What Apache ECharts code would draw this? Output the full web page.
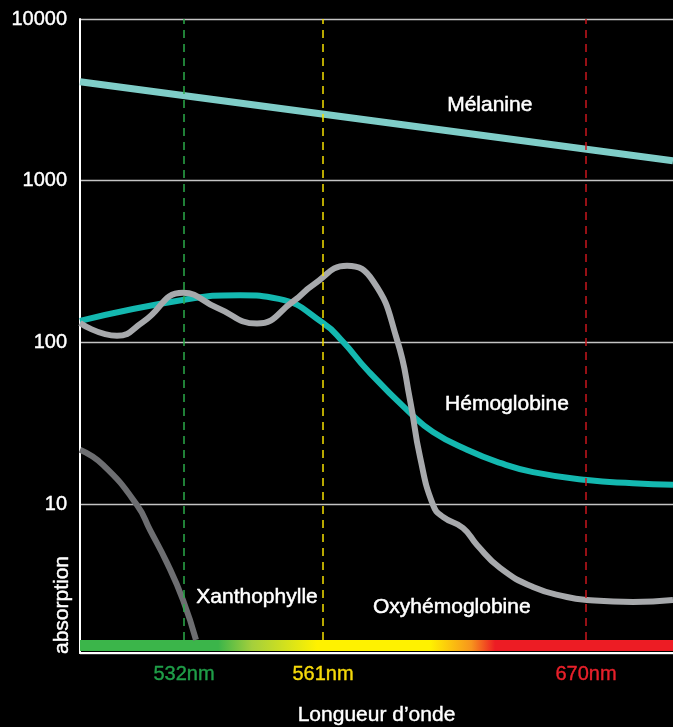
<!DOCTYPE html>
<html>
<head>
<meta charset="utf-8">
<script src="https://cdn.jsdelivr.net/npm/echarts@6/dist/echarts.min.js"></script>
<style>
html,body{margin:0;padding:0;background:#000;}
#chart{width:673px;height:727px;}
</style>
</head>
<body>
<div id="chart"></div>
<script>
// x is a relative position along the wavelength axis (0 = left edge, 100 = right edge)
const melX = [0, 50, 100];
const melV = [4090, 2330, 1327];

const hemX = [0, 17.54, 27.0, 33.5, 40.98, 44.35, 48.40, 55.65, 59.53, 65.26, 70.83, 76.39, 85.50, 93.25, 100];
const hemV = [136, 183.6, 196, 186, 132, 101, 67.8, 36.7, 28, 21.7, 18, 15.8, 14.1, 13.5, 13.2];

const oxyX = [0, 6.24, 10.62, 17.37, 23.10, 29.85, 35.92, 39.29, 45.03, 49.41, 53.46, 55.65, 57.34, 59.53, 61.21, 64.59, 66.95, 70.83, 76.39, 82.12, 85.50, 93.25, 100];
const oxyV = [132, 110, 134, 203, 164, 131, 179, 227, 298, 240, 104, 44.2, 19.6, 9.9, 8.35, 7.13, 5.60, 4.04, 3.08, 2.67, 2.56, 2.49, 2.56];

const xanX = [0, 3.88, 9.61, 11.80, 14.67, 17.37, 19.56];
const xanV = [21.7, 17.5, 9.9, 6.94, 4.34, 2.56, 1.45];

const markerX = [17.54, 40.98, 85.33];
const markerLabels = ['532nm', '561nm', '670nm'];
const markerColors = ['#2bab4a', '#f5e000', '#c8161d'];
const markerLabelColors = ['#1f9e48', '#f5d90a', '#e8202a'];

const yTicks = [10, 100, 1000, 10000];

const zip = (xs, ys) => xs.map((x, i) => [x, ys[i]]);
const FONT = 'Liberation Sans';

const chart = echarts.init(document.getElementById('chart'));
const labelStyle = { color: '#fff', fontSize: 21, fontFamily: FONT, textBorderColor: '#fff', textBorderWidth: 0.5 };
function labelPoint(text, x, y) {
  return {
    symbol: 'circle', symbolSize: 1, silent: true,
    itemStyle: { color: 'rgba(0,0,0,0)' },
    label: Object.assign({ show: true, position: 'inside', formatter: text }, labelStyle),
    data: [{ coord: [x, y] }]
  };
}

const option = {
  backgroundColor: '#000',
  animation: false,
  grid: { left: 80, right: 0, top: 19, bottom: 74, outerBoundsMode: 'none', containLabel: false },
  xAxis: {
    type: 'value', min: 0, max: 100,
    axisLine: { show: true, lineStyle: { color: '#fff', width: 2 } },
    axisTick: { show: false },
    axisLabel: { show: false },
    splitLine: { show: false },
    name: 'Longueur d’onde', nameLocation: 'middle', nameGap: 52,
    nameTextStyle: { color: '#fff', fontSize: 21, fontFamily: FONT, textBorderColor: '#fff', textBorderWidth: 0.4 }
  },
  yAxis: {
    type: 'log', min: 1.203, max: 10000, logBase: 10,
    axisLine: { show: true, lineStyle: { color: '#fff', width: 2 } },
    axisTick: { show: false },
    axisLabel: {
      color: '#fff', fontSize: 20, fontFamily: FONT, margin: 13,
      textBorderColor: '#fff', textBorderWidth: 0.4,
      formatter: v => yTicks.some(t => Math.abs(t - v) / t < 1e-6) ? String(Math.round(v)) : ''
    },
    splitLine: { show: true, lineStyle: { color: '#c4c4c4', width: 1.3 } }
  },
  graphic: [{
    type: 'text', x: 62, y: 605, rotation: Math.PI / 2,
    style: { text: 'absorption', fill: '#fff', stroke: '#fff', lineWidth: 0.4, font: '21px "Liberation Sans"', textAlign: 'center', textVerticalAlign: 'middle' }
  }],
  series: [
    {
      name: 'Mélanine', type: 'line', data: zip(melX, melV), symbol: 'none', smooth: false,
      lineStyle: { color: '#7fcdc8', width: 7 }, z: 3,
      markPoint: labelPoint('Mélanine', 69.1, 2951),
      markArea: {
        silent: true,
        itemStyle: {
          color: {
            type: 'linear', x: 0, y: 0, x2: 1, y2: 0,
            colorStops: [
              { offset: 0, color: '#3bb54a' },
              { offset: 0.233, color: '#3bb54a' },
              { offset: 0.29, color: '#a4cf3c' },
              { offset: 0.40, color: '#fff200' },
              { offset: 0.59, color: '#fff200' },
              { offset: 0.66, color: '#f7941d' },
              { offset: 0.70, color: '#ed1c24' },
              { offset: 1, color: '#ed1c24' }
            ]
          }
        },
        data: [[{ xAxis: 0, yAxis: 1.238 }, { xAxis: 100, yAxis: 1.45 }]]
      },
      markLine: {
        silent: true, symbol: ['none', 'none'],
        data: markerX.map((x, i) => [
          {
            coord: [x, 1.45],
            lineStyle: { color: markerColors[i], type: [8, 6], width: 1.5 },
            label: { show: true, position: 'start', distance: 25, formatter: markerLabels[i], color: markerLabelColors[i], fontSize: 20, fontFamily: FONT, textBorderColor: markerLabelColors[i], textBorderWidth: 0.4 }
          },
          { coord: [x, 10000] }
        ])
      }
    },
    {
      name: 'Hémoglobine', type: 'line', data: zip(hemX, hemV), symbol: 'none', smooth: 0.5,
      lineStyle: { color: '#14b8b0', width: 6 }, z: 3,
      markPoint: labelPoint('Hémoglobine', 72.0, 41.7)
    },
    {
      name: 'Oxyhémoglobine', type: 'line', data: zip(oxyX, oxyV), symbol: 'none', smooth: 0.5,
      lineStyle: { color: '#a7a9ac', width: 6 }, z: 4,
      markPoint: labelPoint('Oxyhémoglobine', 62.7, 2.32)
    },
    {
      name: 'Xanthophylle', type: 'line', data: zip(xanX, xanV), symbol: 'none', smooth: 0.5,
      lineStyle: { color: '#6d6e71', width: 6 }, z: 3,
      markPoint: labelPoint('Xanthophylle', 29.85, 2.67)
    }
  ]
};
chart.setOption(option);
</script>
</body>
</html>
